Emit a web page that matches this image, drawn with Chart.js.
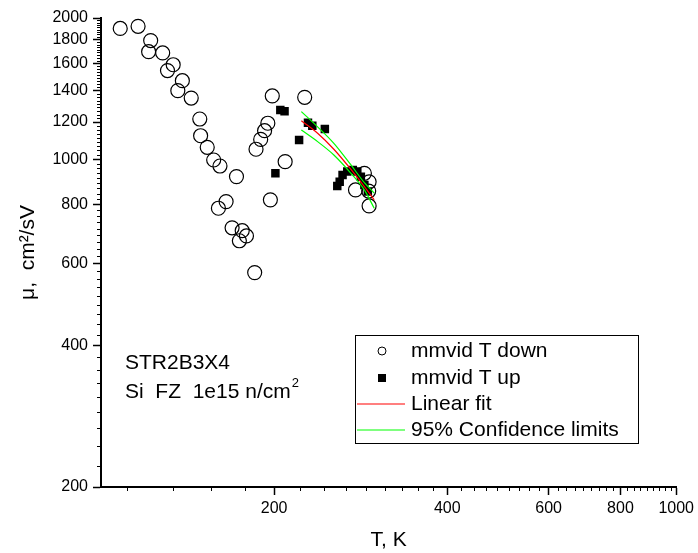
<!DOCTYPE html>
<html lang="en">
<head>
  <meta charset="UTF-8">
  <title>Mobility vs temperature</title>
  <script src="https://cdn.jsdelivr.net/npm/chart.js"></script>
  <style>
    body {
      margin: 0;
      background: #fff;
    }
    canvas {
      display: block;
    }
  </style>
</head>
<body>
  <canvas id="muChart" width="698" height="553"></canvas>

  <script>
    // mmvid T down (open circles)
    const downT = [108, 116, 122, 121, 128, 133.5, 130.5, 138.5, 136, 143.5, 148.5, 149, 153, 157, 161, 172, 165, 160,
                   169, 174, 176, 179, 185, 186, 189.5, 192.5, 195, 198.5, 209, 197, 226, 287, 277, 292.5, 292, 292.5];
    const downMu = [1900, 1920, 1790, 1695, 1685, 1590, 1545, 1470, 1400, 1350, 1218, 1122, 1060, 996, 967, 918, 812, 786,
                    714, 670, 704, 686, 573, 1050, 1102, 1150, 1193, 1364, 988, 819, 1355, 933, 860, 895, 855, 795];

    // mmvid T up (filled squares)
    const upT = [201, 205, 208.5, 221, 229, 233, 245, 257.5, 260, 263, 268, 274, 279, 283, 287, 291];
    const upMu = [933, 1273, 1266, 1099, 1196, 1178, 1160, 877, 895, 925, 941, 948, 941, 917, 881, 853];

    // linear fit and 95% confidence limits
    const fitT = [223, 238, 254, 272, 287, 298.5];
    const fitMu = [1208, 1136, 1050, 951, 874, 819];
    const confUpper = [1263, 1172, 1081, 972, 891, 847];
    const confLower = [1154, 1090, 1021, 933, 860, 786];

    const xTicks = [200, 400, 600, 800, 1000];
    const yTicks = [200, 400, 600, 800, 1000, 1200, 1400, 1600, 1800, 2000];

    const FONT = '"Liberation Sans", Arial, sans-serif';

    function pts(xs, ys) {
      return xs.map((x, i) => ({ x: x, y: ys[i] }));
    }

    // minor ticks: 8 between each pair of majors (Origin style)
    function minors(majors, lo) {
      const out = [];
      const step = (majors[1] - majors[0]) / 9;
      for (let v = majors[0] - step; v > lo; v -= step) out.push(v);
      for (let i = 0; i < majors.length - 1; i++) {
        for (let k = 1; k <= 8; k++) out.push(majors[i] + k * step);
      }
      return out;
    }
    const xMinor = minors(xTicks, 100);
    const yMinor = minors(yTicks, 200);

    const extras = {
      id: 'extras',
      afterDraw(chart) {
        const ctx = chart.ctx;
        const xs = chart.scales.x, ys = chart.scales.y;
        const area = chart.chartArea;
        ctx.save();
        ctx.strokeStyle = '#000';
        ctx.lineWidth = 1;
        ctx.beginPath();
        xMinor.forEach(v => {
          const px = Math.round(xs.getPixelForValue(v)) + 0.5;
          ctx.moveTo(px, area.bottom);
          ctx.lineTo(px, area.bottom + 4);
        });
        yMinor.forEach(v => {
          const py = Math.round(ys.getPixelForValue(v)) + 0.5;
          ctx.moveTo(area.left - 4, py);
          ctx.lineTo(area.left, py);
        });
        ctx.stroke();

        // sample annotation
        ctx.fillStyle = '#000';
        ctx.textBaseline = 'middle';
        ctx.textAlign = 'left';
        ctx.font = '21px ' + FONT;
        ctx.fillText('STR2B3X4', 125, 363);
        const s = 'Si  FZ  1e15 n/cm';
        ctx.fillText(s, 125, 392);
        const w = ctx.measureText(s).width;
        ctx.font = '13px ' + FONT;
        ctx.fillText('2', 125 + w + 1, 383);

        // legend box
        const bx = 355, by = 335, bw = 283, bh = 108;
        ctx.lineWidth = 1;
        ctx.strokeRect(bx + 0.5, by + 0.5, bw, bh);
        ctx.font = '21px ' + FONT;
        const rows = [351, 378, 404, 430];
        const labels = ['mmvid T down', 'mmvid T up', 'Linear fit', '95% Confidence limits'];
        labels.forEach((t, i) => ctx.fillText(t, 411, rows[i]));

        ctx.beginPath();
        ctx.arc(382, rows[0], 4, 0, Math.PI * 2);
        ctx.strokeStyle = '#000';
        ctx.stroke();
        ctx.fillRect(378, rows[1] - 4, 8, 8);

        ctx.lineWidth = 1.2;
        ctx.strokeStyle = '#ff0000';
        ctx.beginPath();
        ctx.moveTo(357, rows[2]);
        ctx.lineTo(405, rows[2]);
        ctx.stroke();
        ctx.strokeStyle = '#00ff00';
        ctx.beginPath();
        ctx.moveTo(357, rows[3]);
        ctx.lineTo(405, rows[3]);
        ctx.stroke();
        ctx.restore();
      }
    };

    const lineDs = (label, ys, color) => ({
      label: label,
      data: pts(fitT, ys),
      showLine: true,
      borderColor: color,
      borderWidth: 1.2,
      pointRadius: 0,
      cubicInterpolationMode: 'monotone',
      order: 0
    });

    new Chart(document.getElementById('muChart'), {
      type: 'scatter',
      data: {
        datasets: [
          lineDs('Linear fit', fitMu, '#ff0000'),
          lineDs('95% Confidence limits', confUpper, '#00ff00'),
          lineDs('95% Confidence limits', confLower, '#00ff00'),
          {
            label: 'mmvid T up',
            data: pts(upT, upMu),
            pointStyle: 'rect',
            pointRadius: 6,
            backgroundColor: '#000',
            borderColor: '#000',
            borderWidth: 0,
            order: 1
          },
          {
            label: 'mmvid T down',
            data: pts(downT, downMu),
            pointStyle: 'circle',
            pointRadius: 7,
            backgroundColor: 'rgba(0,0,0,0)',
            borderColor: '#000',
            borderWidth: 1.2,
            order: 2
          }
        ]
      },
      options: {
        responsive: false,
        animation: false,
        layout: { padding: { top: 18, right: 21, left: 0, bottom: 0 } },
        plugins: {
          legend: { display: false },
          tooltip: { enabled: false }
        },
        scales: {
          x: {
            type: 'logarithmic',
            min: 100,
            max: 1000,
            afterBuildTicks: s => { s.ticks = xTicks.map(v => ({ value: v })); },
            afterFit: s => { s.height = 66; },
            ticks: {
              color: '#000',
              font: { family: FONT, size: 16 },
              padding: 4,
              maxRotation: 0,
              autoSkip: false,
              callback: v => String(v)
            },
            grid: {
              drawOnChartArea: false,
              drawTicks: true,
              tickLength: 8,
              tickColor: '#000',
              tickWidth: 1.5
            },
            border: { color: '#000', width: 2 },
            title: {
              display: true,
              text: 'T, K',
              color: '#000',
              font: { family: FONT, size: 21 },
              padding: { top: 0, bottom: 0 }
            }
          },
          y: {
            type: 'logarithmic',
            min: 200,
            max: 2000,
            afterBuildTicks: s => { s.ticks = yTicks.map(v => ({ value: v })); },
            afterFit: s => { s.width = 101; },
            ticks: {
              color: '#000',
              font: { family: FONT, size: 16 },
              padding: 5,
              autoSkip: false,
              callback: v => String(v)
            },
            grid: {
              drawOnChartArea: false,
              drawTicks: true,
              tickLength: 8,
              tickColor: '#000',
              tickWidth: 1.5
            },
            border: { color: '#000', width: 2 },
            title: {
              display: true,
              text: 'μ,  cm²/sV',
              color: '#000',
              font: { family: FONT, size: 21 },
              padding: { top: 16, bottom: 0 }
            }
          }
        }
      },
      plugins: [extras]
    });
  </script>
</body>
</html>
